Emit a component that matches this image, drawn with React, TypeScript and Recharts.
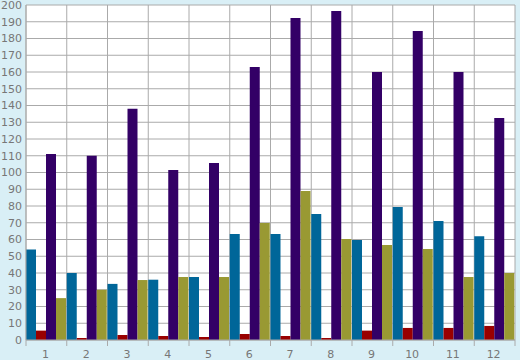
import React from 'react';
import { BarChart, Bar, XAxis, YAxis, CartesianGrid } from 'recharts';

const categories = ['1', '2', '3', '4', '5', '6', '7', '8', '9', '10', '11', '12'];
const tealSeries = [54, 40, 33.5, 36, 37.6, 63.3, 63.3, 75.2, 59.7, 79.4, 71, 62];
const redSeries = [5.6, 1.2, 3, 2.4, 1.8, 3.6, 2.4, 1.2, 5.6, 7.2, 7.2, 8.4];
const purpleSeries = [111, 110, 138, 101.5, 105.7, 163, 192.2, 196.4, 160, 184.5, 160, 132.5];
const oliveSeries = [25, 30, 35.8, 37.6, 37.6, 69.9, 89, 60.3, 56.7, 54.3, 37.6, 40];
const yTicks = [0, 10, 20, 30, 40, 50, 60, 70, 80, 90, 100, 110, 120, 130, 140, 150, 160, 170, 180, 190, 200];

const data = categories.map((c, i) => ({
  name: c,
  teal: tealSeries[i],
  red: redSeries[i],
  purple: purpleSeries[i],
  olive: oliveSeries[i],
}));

const W = 520;
const H = 360;
const LEFT = 26;
const RIGHT = 5;
const TOP = 5;
const XH = 20;
const PLOT_W = W - LEFT - RIGHT;
const BAND = PLOT_W / categories.length;
const GRID = '#aaaaaa';
const TEXT = '#777777';
const FONT = 'DejaVu Sans';

const XTick = (props: any) => {
  const { x, y, payload, index } = props;
  const left = x - BAND / 2;
  const right = x + BAND / 2;
  return (
    <g>
      <line x1={left} y1={y} x2={left} y2={y + 6} stroke={GRID} strokeWidth={1} />
      {index === categories.length - 1 && (
        <line x1={right} y1={y} x2={right} y2={y + 6} stroke={GRID} strokeWidth={1} />
      )}
      <text x={x - 1} y={y + 18} textAnchor="middle" fill={TEXT} fontSize={11} fontFamily={FONT}>
        {payload.value}
      </text>
    </g>
  );
};

export default function App() {
  return (
    <div style={{ position: 'absolute', left: 0, top: 0, width: W, height: H, background: '#d9eff6' }}>
      <BarChart
        width={W}
        height={H}
        data={data}
        margin={{ top: TOP, right: RIGHT, bottom: 0, left: 0 }}
        barCategoryGap={0}
        barGap={0}
      >
        <CartesianGrid
          stroke={GRID}
          strokeWidth={1}
          fill="#ffffff"
          fillOpacity={1}
          verticalCoordinatesGenerator={({ offset }: any) =>
            categories.map((_, i) => offset.left + i * (offset.width / categories.length)).concat([offset.left + offset.width])
          }
        />
        <XAxis
          dataKey="name"
          height={XH}
          tickSize={0}
          tickMargin={0}
          tickLine={false}
          axisLine={{ stroke: GRID }}
          tick={<XTick />}
          interval={0}
        />
        <YAxis
          width={LEFT}
          domain={[0, 200]}
          ticks={yTicks}
          interval={0}
          tickLine={false}
          axisLine={{ stroke: GRID }}
          tickSize={0}
          tickMargin={4}
          tick={{ fill: TEXT, fontSize: 11, fontFamily: FONT }}
        />
        <Bar dataKey="teal" fill="#006699" isAnimationActive={false} />
        <Bar dataKey="red" fill="#990000" isAnimationActive={false} />
        <Bar dataKey="purple" fill="#330066" isAnimationActive={false} />
        <Bar dataKey="olive" fill="#999933" isAnimationActive={false} />
      </BarChart>
    </div>
  );
}
